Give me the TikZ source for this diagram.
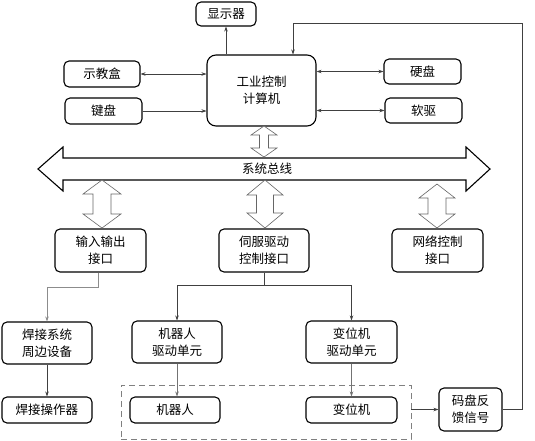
\documentclass[tikz,border=0pt]{standalone}
\usepackage{fontspec}
\setmainfont{Noto Sans CJK SC}
\usetikzlibrary{arrows.meta,calc}
\tikzset{
  box/.style={draw=black,line width=1.1pt,rounded corners=5pt,inner sep=0pt,align=center,font=\fontsize{12.5}{17}\selectfont},
  arr/.style={draw=black!75,line width=0.6pt,-{Stealth[length=5pt,width=3.5pt]}},
  darr/.style={draw=black!75,line width=0.6pt,{Stealth[length=5pt,width=3.5pt]}-{Stealth[length=5pt,width=3.5pt]}},
  fat/.style={draw=black!60,line width=0.6pt,fill=white},
}
\newcommand\vdbl[6]{% cx, top, bottom, head half width, shaft half width, head length
  \draw[fat] (#1,#2) -- ({#1+#4},{#2+#6}) -- ({#1+#5},{#2+#6}) -- ({#1+#5},{#3-#6}) -- ({#1+#4},{#3-#6})
    -- (#1,#3) -- ({#1-#4},{#3-#6}) -- ({#1-#5},{#3-#6}) -- ({#1-#5},{#2+#6}) -- ({#1-#4},{#2+#6}) -- cycle;}
\begin{document}
\begin{tikzpicture}[x=1pt,y=-1pt]
\useasboundingbox (0,0) rectangle (535,440);
% boxes
\node[box,minimum width=60pt,minimum height=24pt] (disp) at (226,14) {显示器};
\node[box,rounded corners=9pt,minimum width=109pt,minimum height=71pt] (ipc) at (261.5,90.5) {工业控制\\计算机};
\node[box,minimum width=76pt,minimum height=26pt] (teach) at (102,74) {示教盒};
\node[box,minimum width=77pt,minimum height=26pt] (kbd) at (103.5,111) {键盘};
\node[box,minimum width=77pt,minimum height=25pt] (hdd) at (422.5,71.5) {硬盘};
\node[box,minimum width=77pt,minimum height=25pt] (fdd) at (423.5,110.5) {软驱};
\node[box,minimum width=91pt,minimum height=43pt] (io) at (100.5,250.5) {输入输出\\接口};
\node[box,minimum width=90pt,minimum height=43pt] (servo) at (264,250.5) {伺服驱动\\控制接口};
\node[box,minimum width=91pt,minimum height=43pt] (net) at (437.5,250.5) {网络控制\\接口};
\node[box,minimum width=90pt,minimum height=42pt] (weld) at (47,343) {焊接系统\\周边设备};
\node[box,minimum width=90pt,minimum height=42pt] (rdrv) at (177,342) {机器人\\驱动单元};
\node[box,minimum width=91pt,minimum height=42pt] (pdrv) at (351.5,342) {变位机\\驱动单元};
\node[box,minimum width=90pt,minimum height=26pt] (weldop) at (47,410) {焊接操作器};
\node[box,minimum width=90pt,minimum height=26pt] (robot) at (175,410) {机器人};
\node[box,minimum width=91pt,minimum height=26pt] (pos) at (351.5,410) {变位机};
\node[box,minimum width=63pt,minimum height=43pt] (enc) at (470.5,409.5) {码盘反\\馈信号};
\node[draw=black!50,dashed,dash pattern=on 6pt off 4pt,line width=0.7pt,minimum width=290pt,minimum height=54pt,inner sep=0pt] (grp) at (266,412) {};
% system bus
\draw[line width=1.1pt,fill=white] (38,169) -- (63,147) -- (63,158) -- (466,158) -- (466,147) -- (490,169)
  -- (466,191) -- (466,180) -- (63,180) -- (63,191) -- cycle;
\node[font=\fontsize{12.5}{15}\selectfont,inner sep=1pt] (bus) at (267,169) {系统总线};
% fat double arrows
\vdbl{264}{126}{157}{13}{4.5}{9}
\vdbl{102}{180}{228}{19}{9}{14}
\vdbl{265}{180}{228}{18}{8.5}{15}
\vdbl{437}{184}{228}{18}{9}{14}
% connectors
\draw[arr] (ipc.north -| disp.south) -- (disp.south);
\draw[darr] (teach.east) -- (teach.east -| ipc.west);
\draw[arr] (kbd.east) -- (kbd.east -| ipc.west);
\draw[darr] (hdd.west -| ipc.east) -- (hdd.west);
\draw[darr] (fdd.west -| ipc.east) -- (fdd.west);
\coordinate (fbr) at (522,23);
\coordinate (fbl) at (293,23);
\draw[arr] (enc.east) -| (fbr) -- (fbl) -- (fbl |- ipc.north);
\draw[arr,draw=black!45] (io.south -| 98,0) -- ++(0,15) -| (weld.north);
\draw[arr] (servo.south) -- ++(0,13) -| (rdrv.north);
\draw[arr] (servo.south) -- ++(0,13) -| (pdrv.north);
\draw[arr] (weld.south) -- (weldop.north);
\draw[arr,draw=black!55] (rdrv.south) -- (rdrv.south |- robot.north);
\draw[arr,draw=black!55] (pdrv.south) -- (pdrv.south |- pos.north);
\draw[arr] (grp.east |- enc.west) -- (enc.west);
\end{tikzpicture}
\end{document}
